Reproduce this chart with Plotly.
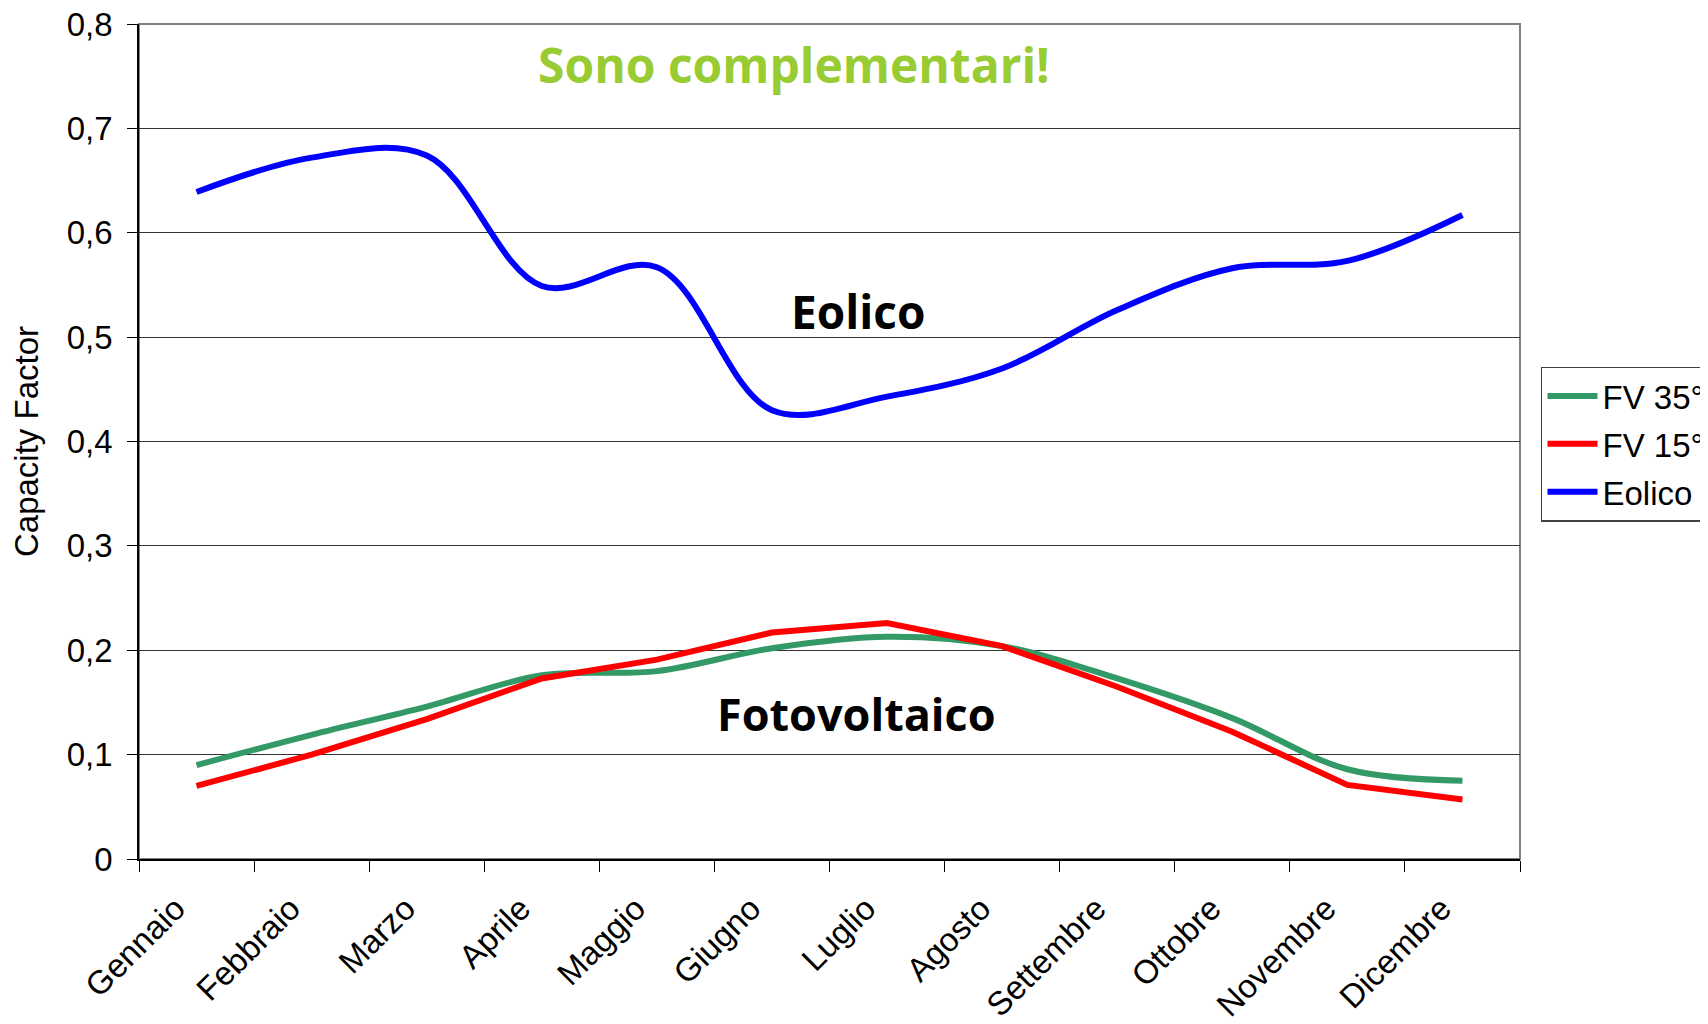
import plotly.graph_objects as go

mesi = ['Gennaio', 'Febbraio', 'Marzo', 'Aprile', 'Maggio', 'Giugno',
        'Luglio', 'Agosto', 'Settembre', 'Ottobre', 'Novembre', 'Dicembre']

fv35 = [0.090, 0.119, 0.146, 0.176, 0.180, 0.202,
        0.213, 0.204, 0.173, 0.135, 0.086, 0.075]
fv15 = [0.070, 0.100, 0.134, 0.173, 0.191, 0.217,
        0.226, 0.204, 0.165, 0.122, 0.071, 0.057]
eolico = [0.639, 0.672, 0.674, 0.549, 0.567, 0.430,
          0.443, 0.470, 0.526, 0.566, 0.573, 0.617]

y_ticks = [0, 0.1, 0.2, 0.3, 0.4, 0.5, 0.6, 0.7, 0.8]

base_font = dict(family='Liberation Sans, Arial, sans-serif', size=33, color='black')
bold_font = 'Open Sans, DejaVu Sans, sans-serif'

fig = go.Figure()
fig.add_trace(go.Scatter(x=mesi, y=fv35, name='FV 35°', mode='lines', legendgroup='a',
                         line=dict(color='#339966', width=6, shape='spline')))
fig.add_trace(go.Scatter(x=mesi, y=fv15, name='FV 15°', mode='lines', legendgroup='b',
                         line=dict(color='#ff0000', width=6)))
fig.add_trace(go.Scatter(x=mesi, y=eolico, name='Eolico', mode='lines', legendgroup='c',
                         line=dict(color='#0000ff', width=6, shape='spline')))

# gray plot-area frame (top and right edges)
fig.add_shape(type='rect', xref='paper', yref='paper', x0=0, x1=1, y0=0, y1=1,
              line=dict(color='#808080', width=2), layer='below')

note = dict(xref='paper', yref='paper', showarrow=False, xanchor='center', yanchor='middle')
fig.add_annotation(text='Sono complementari!', x=0.474, y=0.952, **note,
                   font=dict(family=bold_font, size=48, color='#99cc33', weight='bold'))
fig.add_annotation(text='Eolico', x=0.5205, y=0.6565, **note,
                   font=dict(family=bold_font, size=46, color='black', weight='bold'))
fig.add_annotation(text='Fotovoltaico', x=0.5198, y=0.174, **note,
                   font=dict(family=bold_font, size=45, color='black', weight='bold'))

fig.update_layout(
    width=1708, height=1024,
    margin=dict(l=131, r=196, t=16, b=173, autoexpand=False),
    paper_bgcolor='white', plot_bgcolor='white',
    font=base_font,
    separators=',.',
    showlegend=True,
    legend=dict(x=1.0152, y=0.5898, xanchor='left', yanchor='top',
                bordercolor='#404040', borderwidth=1.5, tracegroupgap=2, itemwidth=50,
                font=dict(size=33), bgcolor='white'),
    xaxis=dict(range=[-0.5, 11.5], tickson='boundaries', ticks='outside', ticklen=11,
               tickcolor='black', tickangle=-45, showgrid=False, showline=True,
               linecolor='black', linewidth=2, ticklabelstandoff=15, ticklabelshift=-21,
               ticklabeloverflow='allow', fixedrange=True),
    yaxis=dict(range=[0, 0.8], tickmode='array', tickvals=y_ticks,
               ticks='outside', ticklen=10, tickcolor='black', ticklabeloverflow='allow',
               showgrid=True, gridcolor='#333333', gridwidth=1, zeroline=False,
               showline=True, linecolor='black', linewidth=1.5, ticklabelstandoff=8,
               title=dict(text='Capacity Factor', standoff=18, font=dict(size=33))),
)

fig.write_html('out.html')
